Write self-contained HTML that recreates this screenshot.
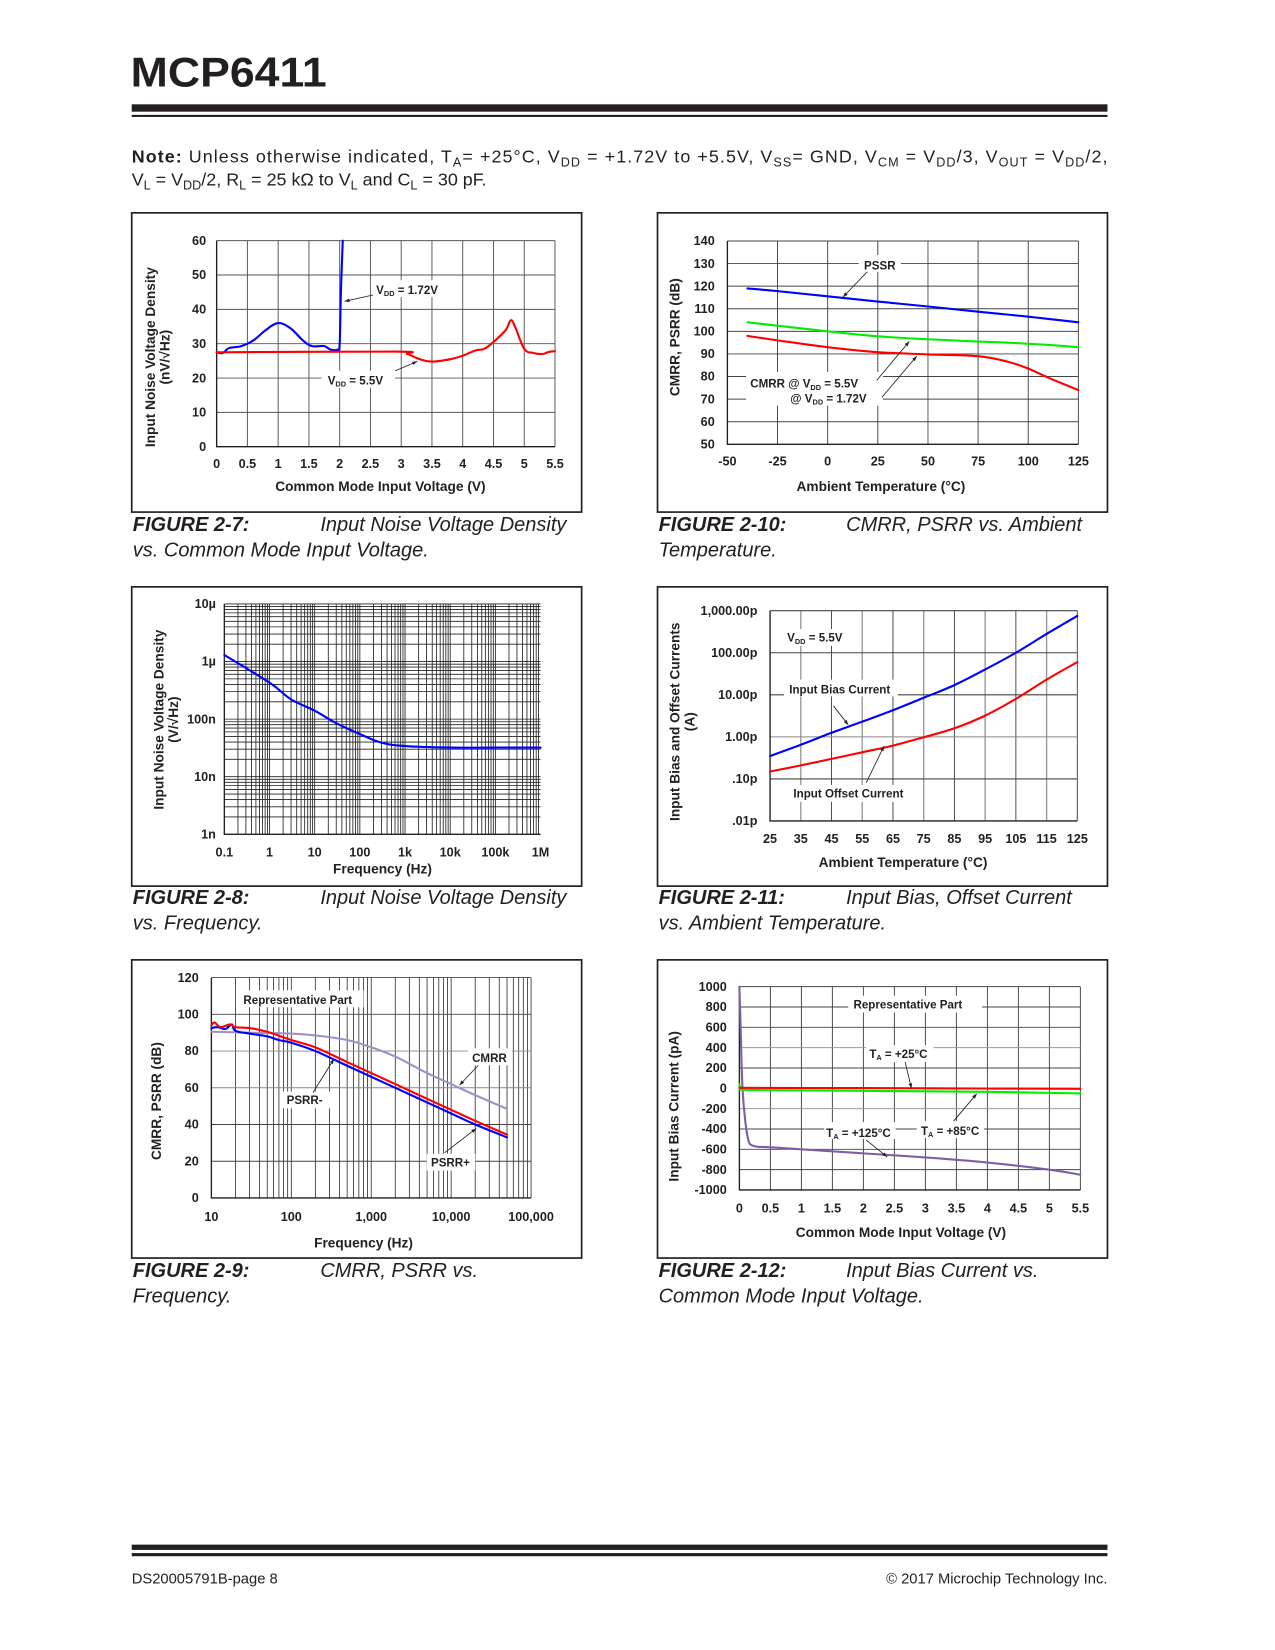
<!DOCTYPE html>
<html><head><meta charset="utf-8"><style>
html,body{margin:0;padding:0;background:#fff;}
svg{display:block;font-family:"Liberation Sans",Arial,sans-serif;}
</style></head><body>
<svg id="page" width="1275" height="1650" viewBox="0 0 1210 1566" preserveAspectRatio="none" xmlns="http://www.w3.org/2000/svg">
<rect x="0" y="0" width="1210" height="1566" fill="#fff"/>
<text x="124" y="82" font-size="40" font-weight="bold" fill="#231f20" textLength="186" lengthAdjust="spacingAndGlyphs">MCP6411</text>
<rect x="125" y="99" width="926" height="7" fill="#231f20"/>
<rect x="125" y="109" width="926" height="2" fill="#231f20"/>
<text x="125" y="154" font-size="17" fill="#231f20" textLength="926" lengthAdjust="spacing"><tspan font-weight="bold">Note:</tspan> Unless otherwise indicated, T<tspan font-size="12" dy="4">A</tspan><tspan dy="-4">= +25°C, V</tspan><tspan font-size="12" dy="4">DD</tspan><tspan dy="-4"> = +1.72V to +5.5V, V</tspan><tspan font-size="12" dy="4">SS</tspan><tspan dy="-4">= GND, V</tspan><tspan font-size="12" dy="4">CM</tspan><tspan dy="-4"> = V</tspan><tspan font-size="12" dy="4">DD</tspan><tspan dy="-4">/3, V</tspan><tspan font-size="12" dy="4">OUT</tspan><tspan dy="-4"> = V</tspan><tspan font-size="12" dy="4">DD</tspan><tspan dy="-4">/2,</tspan></text>
<text x="125" y="176" font-size="17" fill="#231f20">V<tspan font-size="12" dy="4">L</tspan><tspan dy="-4"> = V</tspan><tspan font-size="12" dy="4">DD</tspan><tspan dy="-4">/2, R</tspan><tspan font-size="12" dy="4">L</tspan><tspan dy="-4"> = 25 kΩ to V</tspan><tspan font-size="12" dy="4">L</tspan><tspan dy="-4"> and C</tspan><tspan font-size="12" dy="4">L</tspan><tspan dy="-4"> = 30 pF.</tspan></text>

<g font-size="19" font-style="italic" fill="#231f20">
<text x="126" y="504"><tspan font-weight="bold">FIGURE 2-7:</tspan><tspan x="304">Input Noise Voltage Density</tspan><tspan x="126" dy="24">vs. Common Mode Input Voltage.</tspan></text>
<text x="625" y="504"><tspan font-weight="bold">FIGURE 2-10:</tspan><tspan x="803">CMRR, PSRR vs. Ambient</tspan><tspan x="625" dy="24">Temperature.</tspan></text>
<text x="126" y="858"><tspan font-weight="bold">FIGURE 2-8:</tspan><tspan x="304">Input Noise Voltage Density</tspan><tspan x="126" dy="24">vs. Frequency.</tspan></text>
<text x="625" y="858"><tspan font-weight="bold">FIGURE 2-11:</tspan><tspan x="803">Input Bias, Offset Current</tspan><tspan x="625" dy="24">vs. Ambient Temperature.</tspan></text>
<text x="126" y="1212"><tspan font-weight="bold">FIGURE 2-9:</tspan><tspan x="304">CMRR, PSRR vs.</tspan><tspan x="126" dy="24">Frequency.</tspan></text>
<text x="625" y="1212"><tspan font-weight="bold">FIGURE 2-12:</tspan><tspan x="803">Input Bias Current vs.</tspan><tspan x="625" dy="24">Common Mode Input Voltage.</tspan></text>
</g>

<rect x="125" y="1466" width="926" height="5" fill="#231f20"/>
<rect x="125" y="1474" width="926" height="3" fill="#231f20"/>
<text x="125" y="1503" font-size="14" fill="#231f20">DS20005791B-page 8</text>
<text x="1051" y="1503" font-size="14" fill="#231f20" text-anchor="end">© 2017 Microchip Technology Inc.</text>
</svg>
<script>
// ---------- data ----------
// Fig 2-7
const f7_blue_x = [0,0.1,0.2,0.4,0.6,0.8,1.0,1.2,1.4,1.55,1.75,1.85,1.97,2.0,2.02,2.05];
const f7_blue_y = [27.5,27.3,28.7,29.3,31,34,36,34.5,31,29.3,29.3,28.3,28.3,30,45,60];
const f7_red_x = [0,2.9,3.1,3.3,3.5,3.8,4.0,4.2,4.35,4.5,4.7,4.78,4.85,5.0,5.15,5.3,5.4,5.5];
const f7_red_y = [27.5,27.7,27,25.5,24.8,25.5,26.5,28,28.5,30.5,34,36.8,35,28.5,27.3,27,27.6,27.8];
const f7_xticks = [0,0.5,1,1.5,2,2.5,3,3.5,4,4.5,5,5.5];
const f7_yticks = [0,10,20,30,40,50,60];
// Fig 2-8
const f8_freq = [0.1,1,3,10,30,100,300,1000,10000,100000,1000000];
const f8_noise = [1.3e-6,4.3e-7,2.2e-7,1.4e-7,8.5e-8,5.5e-8,3.9e-8,3.4e-8,3.2e-8,3.2e-8,3.2e-8];
const f8_xticks = [0.1,1,10,100,1000,10000,100000,1000000];
const f8_xlabels = ["0.1","1","10","100","1k","10k","100k","1M"];
const f8_yticks = [1e-9,1e-8,1e-7,1e-6,1e-5];
const f8_ylabels = ["1n","10n","100n","1µ","10µ"];
// Fig 2-9
const f9_cmrr_f = [10,30,100,200,500,1000,2000,5000,10000,20000,50000];
const f9_cmrr = [90.5,90,89.5,88.5,86,82,77,68,62,56,48.5];
const f9_psrrp_f = [10,12,15,18,20,30,50,70,100,200,500,1000,2000,5000,10000,20000,50000];
const f9_psrrp = [92.5,93,92,94.5,91,89.5,88,86,84.5,80,72,66,60,52,46,40,33];
const f9_psrrm_f = [10,11,13,17,20,30,50,100,200,500,1000,2000,5000,10000,20000,50000];
const f9_psrrm = [94,95.5,93,94.5,93,92.5,90.5,86,82,74,68,62,54,48,42,34.5];
const f9_xticks = [10,100,1000,10000,100000];
const f9_xlabels = ["10","100","1,000","10,000","100,000"];
const f9_yticks = [0,20,40,60,80,100,120];
// Fig 2-10
const f10_temp = [-40,-25,0,25,50,75,90,100,110,125];
const f10_psrr = [119,117.8,115.5,113.2,111,108.7,107.4,106.5,105.5,104];
const f10_cmrr55 = [104,102.5,100,97.8,96.5,95.5,95,94.5,94,93];
const f10_cmrr172 = [98,96,93,90.8,89.8,89,86.5,83.5,79.5,74];
const f10_xticks = [-50,-25,0,25,50,75,100,125];
const f10_yticks = [50,60,70,80,90,100,110,120,130,140];
// Fig 2-11
const f11_temp = [25,35,45,55,65,75,85,95,105,115,125];
const f11_bias = [0.35,0.65,1.25,2.3,4.3,8.5,17,40,100,280,750];
const f11_offset = [0.15,0.21,0.3,0.43,0.62,0.98,1.6,3.2,8,23,60];
const f11_xticks = [25,35,45,55,65,75,85,95,105,115,125];
const f11_yticks = [0.01,0.1,1,10,100,1000];
const f11_ylabels = [".01p",".10p","1.00p","10.00p","100.00p","1,000.00p"];
// Fig 2-12
const f12_t25_x = [0,1,2,3,4,5,5.5];
const f12_t25_y = [5,3,2,0,-2,-4,-5];
const f12_t85_x = [0,0.02,0.1,1,2,3,4,5,5.5];
const f12_t85_y = [40,0,-15,-20,-25,-30,-35,-45,-50];
const f12_t125_x = [0,0.02,0.05,0.1,0.15,0.2,0.3,0.5,1,2,3,4,5,5.5];
const f12_t125_y = [1000,600,0,-350,-520,-560,-575,-580,-600,-640,-680,-730,-800,-850];
const f12_xticks = [0,0.5,1,1.5,2,2.5,3,3.5,4,4.5,5,5.5];
const f12_yticks = [-1000,-800,-600,-400,-200,0,200,400,600,800,1000];

// ---------- helpers ----------
const NS = "http://www.w3.org/2000/svg";
const page = document.getElementById('page');
function mk(parent, tag, attrs, txt){
  const e = document.createElementNS(NS, tag);
  for (const k in attrs) e.setAttribute(k, attrs[k]);
  if (txt !== undefined) e.textContent = txt;
  parent.appendChild(e);
  return e;
}
function lin(d0,d1,p0,p1){ return v => p0 + (v-d0)/(d1-d0)*(p1-p0); }
function lg(d0,d1,p0,p1){ const a=Math.log10(d0), b=Math.log10(d1); return v => p0 + (Math.log10(v)-a)/(b-a)*(p1-p0); }
function fmt(v){ return String(v); }

function frame(name, bx, by, bw, bh){
  const g = mk(page, 'g', {});
  
  
  const r = mk(g, 'rect', {x:bx, y:by, width:bw, height:bh, fill:'none', stroke:'#231f20', 'stroke-width':1.6});
  
  
  return g;
}
function vline(g, x, y0, y1, w, c){
  const l = mk(g, 'line', {x1:x, x2:x, y1:y0, y2:y1, stroke:c||'#555', 'stroke-width':w||0.9});
  
  
}
function hline(g, y, x0, x1, w, c){
  const l = mk(g, 'line', {x1:x0, x2:x1, y1:y, y2:y, stroke:c||'#555', 'stroke-width':w||0.9});
  
  
}
function tickText(g, x, y, s, anchor, name, size){
  const t = mk(g, 'text', {x:x, y:y, 'font-size':size||12, 'font-weight':'bold', 'text-anchor':anchor, fill:'#231f20'}, s);
  
  
  return t;
}
function series(g, xs, ys, X, Y, color, name, w){
  const P = xs.map((x,i)=>[X(x), Y(ys[i])]);
  let d = 'M' + P[0][0].toFixed(2) + ',' + P[0][1].toFixed(2);
  for (let i=0;i<P.length-1;i++){
    const p0=P[Math.max(0,i-1)], p1=P[i], p2=P[i+1], p3=P[Math.min(P.length-1,i+2)];
    const t=0.18;
    const c1=[p1[0]+(p2[0]-p0[0])*t, p1[1]+(p2[1]-p0[1])*t];
    const c2=[p2[0]-(p3[0]-p1[0])*t, p2[1]-(p3[1]-p1[1])*t];
    d += 'C'+c1[0].toFixed(2)+','+c1[1].toFixed(2)+' '+c2[0].toFixed(2)+','+c2[1].toFixed(2)+' '+p2[0].toFixed(2)+','+p2[1].toFixed(2);
  }
  const p = mk(g, 'path', {d:d, fill:'none', stroke:color, 'stroke-width':w||2, 'stroke-linejoin':'round', 'stroke-linecap':'round'});
  
  
}
function axesBox(g, L, T, R, B){
  const a = mk(g, 'path', {d:`M${L},${T}L${L},${B}L${R},${B}`, fill:'none', stroke:'#231f20', 'stroke-width':1.3});
  
  
}
function ytitle(g, x, y, lines, name){
  const t = mk(g, 'text', {transform:`translate(${x},${y}) rotate(-90)`, 'font-size':13, 'font-weight':'bold', 'text-anchor':'middle', fill:'#231f20'});
  
  
  lines.forEach((s,i)=>{ mk(t,'tspan',{x:0, dy: i? 14:0}, s); });
}
function xtitle(g, x, y, s, name){
  const t = mk(g, 'text', {x:x, y:y, 'font-size':13, 'font-weight':'bold', 'text-anchor':'middle', fill:'#231f20'}, s);
  
  
}
function label(g, x, y, w, h, name){
  const r = mk(g, 'rect', {x:x, y:y, width:w, height:h, fill:'#fff'});
  
  
}
function ltext(g, x, y, html, name, anchor){
  const t = mk(g, 'text', {x:x, y:y, 'font-size':11, 'font-weight':'bold', fill:'#231f20', 'text-anchor':anchor||'start'});
  t.innerHTML = html;
  
  
}
function arrow(g, x1, y1, x2, y2, name){
  const l = mk(g, 'line', {x1:x1, y1:y1, x2:x2, y2:y2, stroke:'#231f20', 'stroke-width':0.8});
  
  
  const ang = Math.atan2(y2-y1, x2-x1), s=5;
  const p = `${x2},${y2} ${x2-s*Math.cos(ang-0.35)},${y2-s*Math.sin(ang-0.35)} ${x2-s*Math.cos(ang+0.35)},${y2-s*Math.sin(ang+0.35)}`;
  const h = mk(g, 'polygon', {points:p, fill:'#231f20'});
  
  
}
const VDD = 'V<tspan font-size="7" dy="2">DD</tspan><tspan dy="-2">';
const TA = 'T<tspan font-size="7" dy="2">A</tspan><tspan dy="-2">';

// ---------- Fig 2-7 ----------
(function(){
  const g = frame('chart-noise-vs-vcm', 125, 202, 427, 284);
  const L=205.6,R=526.7,T=228.4,B=424;
  const X=lin(0,5.5,L,R), Y=lin(0,60,B,T);
  f7_xticks.forEach(v=>{ if(v>0) vline(g,X(v),T,B); });
  f7_yticks.forEach(v=>{ if(v>0) hline(g,Y(v),L,R); });
  label(g, 352, 266, 72, 16, 'vdd172-label');
  label(g, 305, 352, 70, 16, 'vdd55-label');
  axesBox(g,L,T,R,B);
  f7_xticks.forEach(v=>tickText(g,X(v),444,fmt(v),'middle','x-tick-label'));
  f7_yticks.forEach(v=>tickText(g,L-10,Y(v)+4,fmt(v),'end','y-tick-label'));
  series(g,f7_blue_x,f7_blue_y,X,Y,'#0000ff','series-vdd-1.72v');
  series(g,f7_red_x,f7_red_y,X,Y,'#ff0000','series-vdd-5.5v');
  ltext(g,357,279,VDD+' = 1.72V</tspan>','vdd172-text');
  arrow(g,354,280,327,286,'vdd172-arrow');
  ltext(g,311,365,VDD+' = 5.5V</tspan>','vdd55-text');
  arrow(g,375,352,396,343,'vdd55-arrow');
  ytitle(g,147,339,['Input Noise Voltage Density','(nV/√Hz)'],'y-axis-title');
  xtitle(g,361,466,'Common Mode Input Voltage (V)','x-axis-title');
})();

// ---------- Fig 2-8 ----------
(function(){
  const g = frame('chart-noise-vs-frequency', 125, 557, 427, 284);
  const L=212.9,R=513,T=573.2,B=791.8;
  const X=lg(0.1,1e6,L,R), Y=lg(1e-9,1e-5,B,T);
  for(let d=-1; d<6; d++) for(let m=1;m<10;m++){ const v=m*Math.pow(10,d); if(v>0.1) vline(g,X(v),T,B,0.8,'#222'); }
  for(let d=-9; d<-5; d++) for(let m=1;m<10;m++){ const v=m*Math.pow(10,d); if(v>1e-9) hline(g,Y(v),L,R,0.8,'#222'); }
  hline(g,T,L,R,0.8,'#222');
  axesBox(g,L,T,R,B);
  f8_xticks.forEach((v,i)=>tickText(g,X(v),813,f8_xlabels[i],'middle','x-tick-label'));
  f8_yticks.forEach((v,i)=>tickText(g,L-8,Y(v)+4,f8_ylabels[i],'end','y-tick-label'));
  series(g,f8_freq,f8_noise,X,Y,'#0000ff','series-noise-density');
  ytitle(g,155,683,['Input Noise Voltage Density','(V/√Hz)'],'y-axis-title');
  xtitle(g,363,829,'Frequency (Hz)','x-axis-title');
})();

// ---------- Fig 2-9 ----------
(function(){
  const g = frame('chart-cmrr-psrr-vs-frequency', 125, 911, 427, 283);
  const L=200.6,R=504,T=927.8,B=1137;
  const X=lg(10,1e5,L,R), Y=lin(0,120,B,T);
  for(let d=1; d<5; d++) for(let m=1;m<10;m++){ const v=m*Math.pow(10,d); if(v>10) vline(g,X(v),T,B,0.8,'#333'); }
  vline(g,R,T,B,0.8,'#333');
  f9_yticks.forEach(v=>{ if(v>0) hline(g,Y(v),L,R,0.9,(v==60||v==80)?'#888':'#444'); });
  label(g,227,940,118,16,'representative-part-label');
  label(g,444,995,42,16,'cmrr-label');
  label(g,268,1036,46,16,'psrr-minus-label');
  label(g,405,1095,46,16,'psrr-plus-label');
  axesBox(g,L,T,R,B);
  f9_xticks.forEach((v,i)=>tickText(g,X(v),1159,f9_xlabels[i],'middle','x-tick-label'));
  f9_yticks.forEach(v=>tickText(g,L-12,Y(v)+4,fmt(v),'end','y-tick-label'));
  series(g,f9_cmrr_f,f9_cmrr,X,Y,'#a090c4','series-cmrr');
  series(g,f9_psrrp_f,f9_psrrp,X,Y,'#0000ff','series-psrr-plus');
  series(g,f9_psrrm_f,f9_psrrm,X,Y,'#ff0000','series-psrr-minus');
  ltext(g,231,953,'Representative Part','representative-part-text');
  ltext(g,448,1008,'CMRR','cmrr-text');
  arrow(g,454,1011,436,1030,'cmrr-arrow');
  ltext(g,272,1048,'PSRR-','psrr-minus-text');
  arrow(g,297,1037,317,1005,'psrr-minus-arrow');
  ltext(g,409,1107,'PSRR+','psrr-plus-text');
  arrow(g,422,1094,452,1071,'psrr-plus-arrow');
  ytitle(g,153,1045,['CMRR, PSRR (dB)'],'y-axis-title');
  xtitle(g,345,1184,'Frequency (Hz)','x-axis-title');
})();

// ---------- Fig 2-10 ----------
(function(){
  const g = frame('chart-cmrr-psrr-vs-temperature', 624, 202, 427, 284);
  const L=690.3,R=1023.4,T=228.7,B=421.7;
  const X=lin(-50,125,L,R), Y=lin(50,140,B,T);
  f10_xticks.forEach(v=>{ if(v>-50) vline(g,X(v),T,B,v==50?1.5:0.9,v==50?'#999':'#444'); });
  f10_yticks.forEach(v=>{ if(v>50) hline(g,Y(v),L,R,0.9,'#444'); });
  label(g,815,242,40,16,'pssr-label');
  label(g,708,353,130,32,'cmrr-label');
  axesBox(g,L,T,R,B);
  f10_xticks.forEach(v=>tickText(g,X(v),442,fmt(v),'middle','x-tick-label'));
  f10_yticks.forEach(v=>tickText(g,L-12,Y(v)+4,fmt(v),'end','y-tick-label'));
  series(g,f10_temp,f10_psrr,X,Y,'#0000ff','series-psrr');
  series(g,f10_temp,f10_cmrr55,X,Y,'#00ee00','series-cmrr-5.5v');
  series(g,f10_temp,f10_cmrr172,X,Y,'#ff0000','series-cmrr-1.72v');
  ltext(g,820,256,'PSSR','pssr-text');
  arrow(g,823,258,800,282,'pssr-arrow');
  ltext(g,712,368,'CMRR @ '+VDD+' = 5.5V</tspan>','cmrr-55-text');
  ltext(g,750,382,'@ '+VDD+' = 1.72V</tspan>','cmrr-172-text');
  arrow(g,832,361,863,324,'cmrr-55-arrow');
  arrow(g,837,377,870,338,'cmrr-172-arrow');
  ytitle(g,645,320,['CMRR, PSRR (dB)'],'y-axis-title');
  xtitle(g,836,466,'Ambient Temperature (°C)','x-axis-title');
})();

// ---------- Fig 2-11 ----------
(function(){
  const g = frame('chart-bias-offset-vs-temperature', 624, 557, 427, 284);
  const L=730.8,R=1022.4,T=579.6,B=779.2;
  const X=lin(25,125,L,R), Y=lg(0.01,1000,B,T);
  f11_xticks.forEach((v,i)=>{ if(v>25) vline(g,X(v),T,B,i%2?1.3:0.9,i%2?'#999':'#444'); });
  f11_yticks.forEach(v=>{ if(v>0.01) hline(g,Y(v),L,R,1,v==1?'#888':'#444'); });
  label(g,744,597,62,16,'vdd-label');
  label(g,744,645,108,16,'input-bias-label');
  label(g,748,745,116,16,'input-offset-label');
  axesBox(g,L,T,R,B);
  f11_xticks.forEach(v=>tickText(g,X(v),800,fmt(v),'middle','x-tick-label'));
  f11_yticks.forEach((v,i)=>tickText(g,L-12,Y(v)+4,f11_ylabels[i],'end','y-tick-label'));
  series(g,f11_temp,f11_bias,X,Y,'#0000ff','series-input-bias-current');
  series(g,f11_temp,f11_offset,X,Y,'#ff0000','series-input-offset-current');
  ltext(g,747,609,VDD+' = 5.5V</tspan>','vdd-text');
  ltext(g,749,658,'Input Bias Current','input-bias-text');
  arrow(g,791,670,805,688,'input-bias-arrow');
  ltext(g,753,757,'Input Offset Current','input-offset-text');
  arrow(g,822,743,839,708,'input-offset-arrow');
  ytitle(g,645,685,['Input Bias and Offset Currents','(A)'],'y-axis-title');
  xtitle(g,857,823,'Ambient Temperature (°C)','x-axis-title');
})();

// ---------- Fig 2-12 ----------
(function(){
  const g = frame('chart-bias-vs-vcm', 624, 911, 427, 283);
  const L=701.7,R=1025.3,T=936.4,B=1129.4;
  const X=lin(0,5.5,L,R), Y=lin(-1000,1000,B,T);
  f12_xticks.forEach(v=>{ if(v>0) vline(g,X(v),T,B,0.9,'#444'); });
  f12_yticks.forEach(v=>{ if(v>-1000) hline(g,Y(v),L,R,0.9,(v==400||v==-200)?'#999':'#444'); });
  label(g,805,945,127,16,'representative-part-label');
  label(g,822,992,64,16,'ta25-label');
  label(g,782,1065,68,16,'ta125-label');
  label(g,870,1064,64,16,'ta85-label');
  axesBox(g,L,T,R,B);
  f12_xticks.forEach(v=>tickText(g,X(v),1151,fmt(v),'middle','x-tick-label'));
  f12_yticks.forEach(v=>tickText(g,L-12,Y(v)+4,fmt(v),'end','y-tick-label'));
  series(g,f12_t125_x,f12_t125_y,X,Y,'#7d5fa8','series-ta-125c');
  series(g,f12_t85_x,f12_t85_y,X,Y,'#00ee00','series-ta-85c');
  series(g,f12_t25_x,f12_t25_y,X,Y,'#ff0000','series-ta-25c');
  ltext(g,810,957,'Representative Part','representative-part-text');
  ltext(g,825,1004,TA+' = +25°C</tspan>','ta25-text');
  arrow(g,859,1008,865,1033,'ta25-arrow');
  ltext(g,784,1079,TA+' = +125°C</tspan>','ta125-text');
  arrow(g,822,1082,842,1098,'ta125-arrow');
  ltext(g,874,1077,TA+' = +85°C</tspan>','ta85-text');
  arrow(g,905,1064,927,1038,'ta85-arrow');
  ytitle(g,644,1050,['Input Bias Current (pA)'],'y-axis-title');
  xtitle(g,855,1174,'Common Mode Input Voltage (V)','x-axis-title');
})();
</script>
</body></html>
